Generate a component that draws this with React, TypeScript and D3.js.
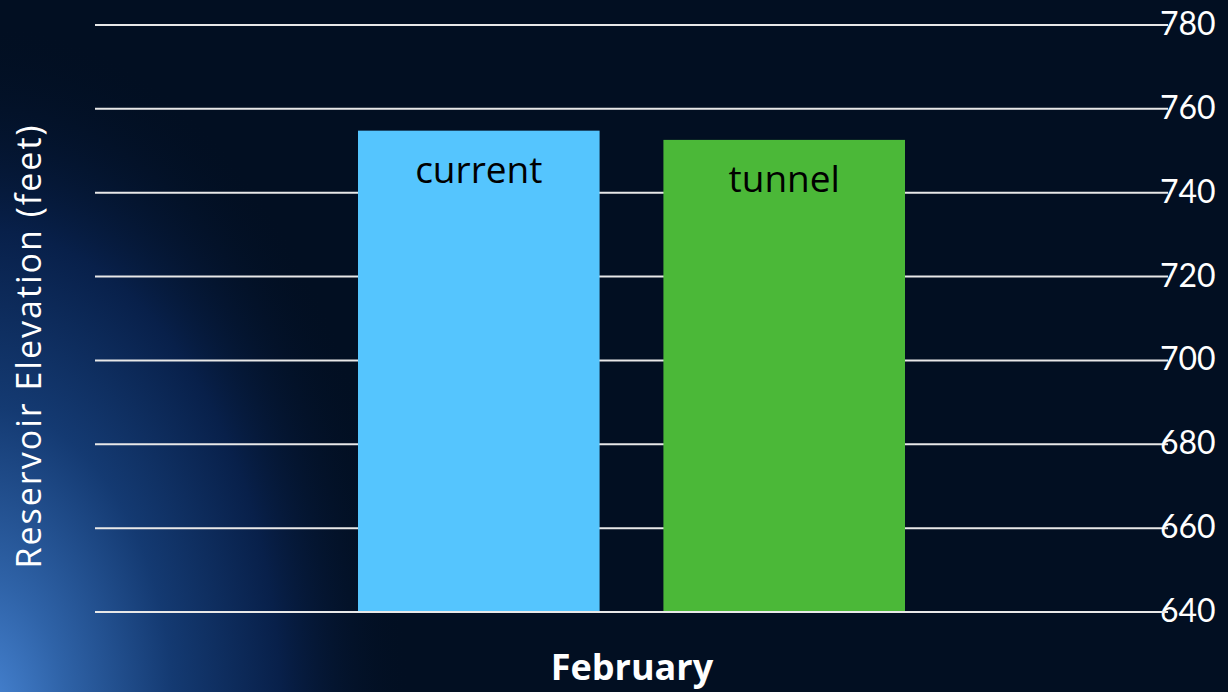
import React from 'react';
import * as d3 from 'd3';

const categories = ['current', 'tunnel'];
const elevations = [754.8, 752.6];
const barColors = ['#55c5fe', '#4bb838'];
const yTicks = [640, 660, 680, 700, 720, 740, 760, 780];
const xLabel = 'February';
const yLabel = 'Reservoir Elevation (feet)';

const W = 1228;
const H = 692;

const App: React.FC = () => {
  const y = d3.scaleLinear().domain([640, 780]).range([612, 25]);
  const x = d3.scaleBand<string>().domain(categories).range([358, 905]).paddingInner(0.209).paddingOuter(0);

  return (
    <div style={{ position: 'fixed', left: 0, top: 0 }}>
      <svg width={W} height={H} style={{ display: 'block' }}>
        <defs>
          {/* elongated blue glow hugging the lower-left edge */}
          <radialGradient id="glow" gradientUnits="userSpaceOnUse" cx={0} cy={0} r={1}
            gradientTransform="translate(-20,720) scale(430,700)">
            <stop offset="0%" stopColor="#4a88d8" />
            <stop offset="20%" stopColor="#2f63a8" />
            <stop offset="45%" stopColor="#143a72" />
            <stop offset="70%" stopColor="#08204a" />
            <stop offset="100%" stopColor="#020f22" stopOpacity="0" />
          </radialGradient>
        </defs>
        <rect width={W} height={H} fill="#020f22" />
        <rect width={W} height={H} fill="url(#glow)" />

        {/* gridlines + right labels */}
        {yTicks.map(t => (
          <g key={t}>
            <line x1={95} x2={1168} y1={y(t)} y2={y(t)} stroke="#e8e8e8" strokeWidth={2} />
            <text x={1160} y={y(t) + 10} fill="#ffffff" fontFamily="Lato, 'Open Sans', sans-serif" fontSize={32}>
              {t}
            </text>
          </g>
        ))}

        {/* bars */}
        {categories.map((c, i) => (
          <g key={c}>
            <rect x={x(c)} y={y(elevations[i])} width={x.bandwidth()} height={y(640) - y(elevations[i])} fill={barColors[i]} />
            <text
              x={(x(c) as number) + x.bandwidth() / 2}
              y={y(elevations[i]) + 52}
              textAnchor="middle"
              fill="#000000"
              fontFamily="'Open Sans', sans-serif"
              fontSize={37}
            >
              {c}
            </text>
          </g>
        ))}
        <line x1={95} x2={1168} y1={y(640)} y2={y(640)} stroke="#e8e8e8" strokeWidth={2} />

        <text x={632} y={680} textAnchor="middle" fill="#ffffff" fontFamily="'Open Sans', sans-serif" fontWeight="bold" fontSize={36}>
          {xLabel}
        </text>
        <text
          transform="translate(41,346) rotate(-90)"
          textAnchor="middle"
          fill="#ffffff"
          fontFamily="'Open Sans', sans-serif"
          fontSize={34}
          letterSpacing={2}
        >
          {yLabel}
        </text>
      </svg>
    </div>
  );
};

export default App;
